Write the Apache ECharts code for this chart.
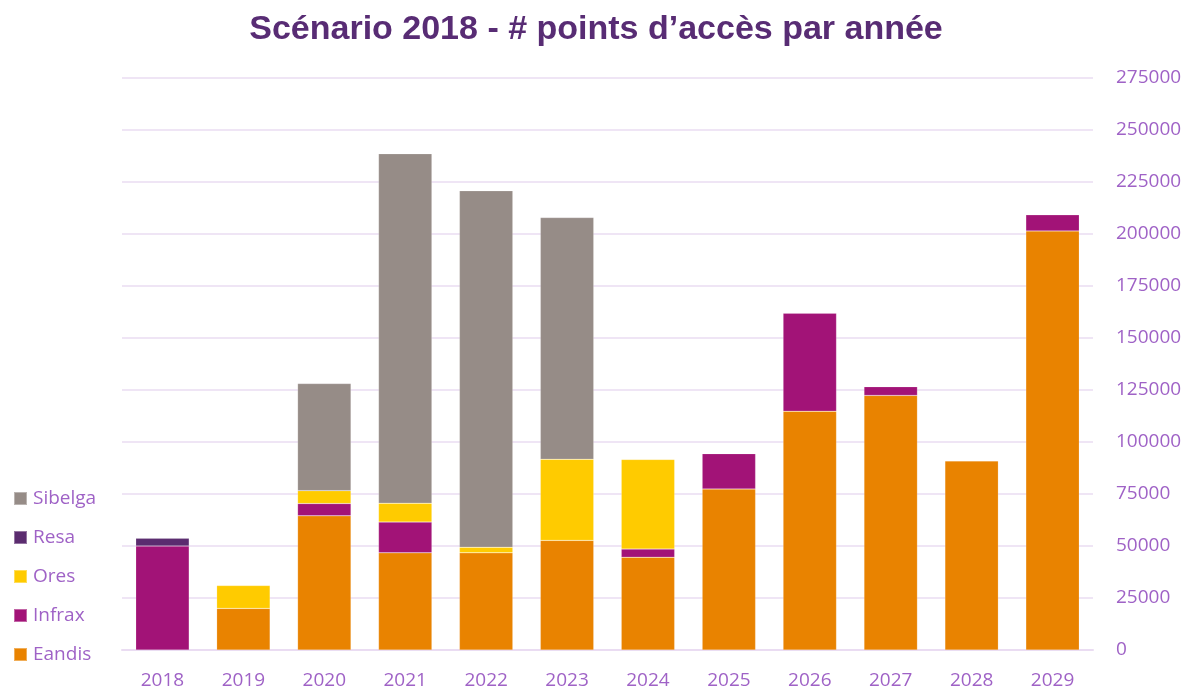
<!DOCTYPE html>
<html>
<head>
<meta charset="utf-8">
<script src="https://cdn.jsdelivr.net/npm/echarts@6/dist/echarts.min.js"></script>
<style>
  html, body { margin: 0; padding: 0; background: #fff; }
  #chart { width: 1192px; height: 690px; }
</style>
</head>
<body>
<div id="chart"></div>
<script>
// années
const years = ['2018', '2019', '2020', '2021', '2022', '2023', '2024', '2025', '2026', '2027', '2028', '2029'];
// points d'accès par gestionnaire
const eandis = [null, 20000, 64500, 46700, 46700, 52700, 44600, 77400, 114800, 122400, 90900, 201500];
const infrax = [50000, null, 5900, 14800, null, null, 3900, 17000, 47100, 4200, null, 7700];
const ores = [null, 11000, 6200, 9100, 2700, 39000, 43100, null, null, null, null, null];
const resa = [3700, null, null, null, null, null, null, null, null, null, null, null];
const sibelga = [null, null, 51500, 168000, 171400, 116200, null, null, null, null, null, null];

const labelColor = '#9F62C6';
const gridColor = '#EADCF2';

function serie(name, data, color) {
  return {
    name: name,
    type: 'bar',
    stack: 'total',
    barCategoryGap: '34%',
    data: data,
    itemStyle: { color: color, borderColor: 'rgba(255,255,255,0.35)', borderWidth: 0.5 }
  };
}

const chart = echarts.init(document.getElementById('chart'));
chart.setOption({
  animation: false,
  title: {
    text: 'Scénario 2018 - # points d’accès par année',
    left: 'center',
    top: 8,
    textStyle: {
      fontFamily: 'Liberation Sans',
      fontSize: 34,
      fontWeight: 'bold',
      color: '#582C74'
    }
  },
  legend: {
    orient: 'vertical',
    left: 13,
    top: 489,
    padding: 0,
    itemWidth: 13,
    itemHeight: 13,
    itemGap: 20,
    icon: 'rect',
    data: ['Sibelga', 'Resa', 'Ores', 'Infrax', 'Eandis'],
    textStyle: { fontFamily: 'Open Sans', fontSize: 19, color: labelColor, padding: [0, 0, 0, 1] }
  },
  grid: {
    left: 122,
    right: 99,
    top: 78,
    bottom: 37
  },
  xAxis: {
    type: 'category',
    data: years,
    axisLine: { lineStyle: { color: gridColor, width: 2 } },
    axisTick: { show: false },
    axisLabel: { fontFamily: 'Open Sans', fontSize: 19, color: labelColor, margin: 21 }
  },
  yAxis: {
    type: 'value',
    position: 'right',
    min: 0,
    max: 275000,
    interval: 25000,
    axisLine: { show: false },
    axisTick: { show: false },
    splitLine: { lineStyle: { color: gridColor, width: 1.5 } },
    axisLabel: {
      fontFamily: 'Open Sans', fontSize: 19, color: labelColor, margin: 23,
      formatter: function (v) { return String(v); }
    }
  },
  series: [
    serie('Eandis', eandis, '#E98300'),
    serie('Infrax', infrax, '#A21377'),
    serie('Ores', ores, '#FFCB00'),
    serie('Resa', resa, '#5B2C6F'),
    serie('Sibelga', sibelga, '#968C87')
  ]
});
</script>
</body>
</html>
